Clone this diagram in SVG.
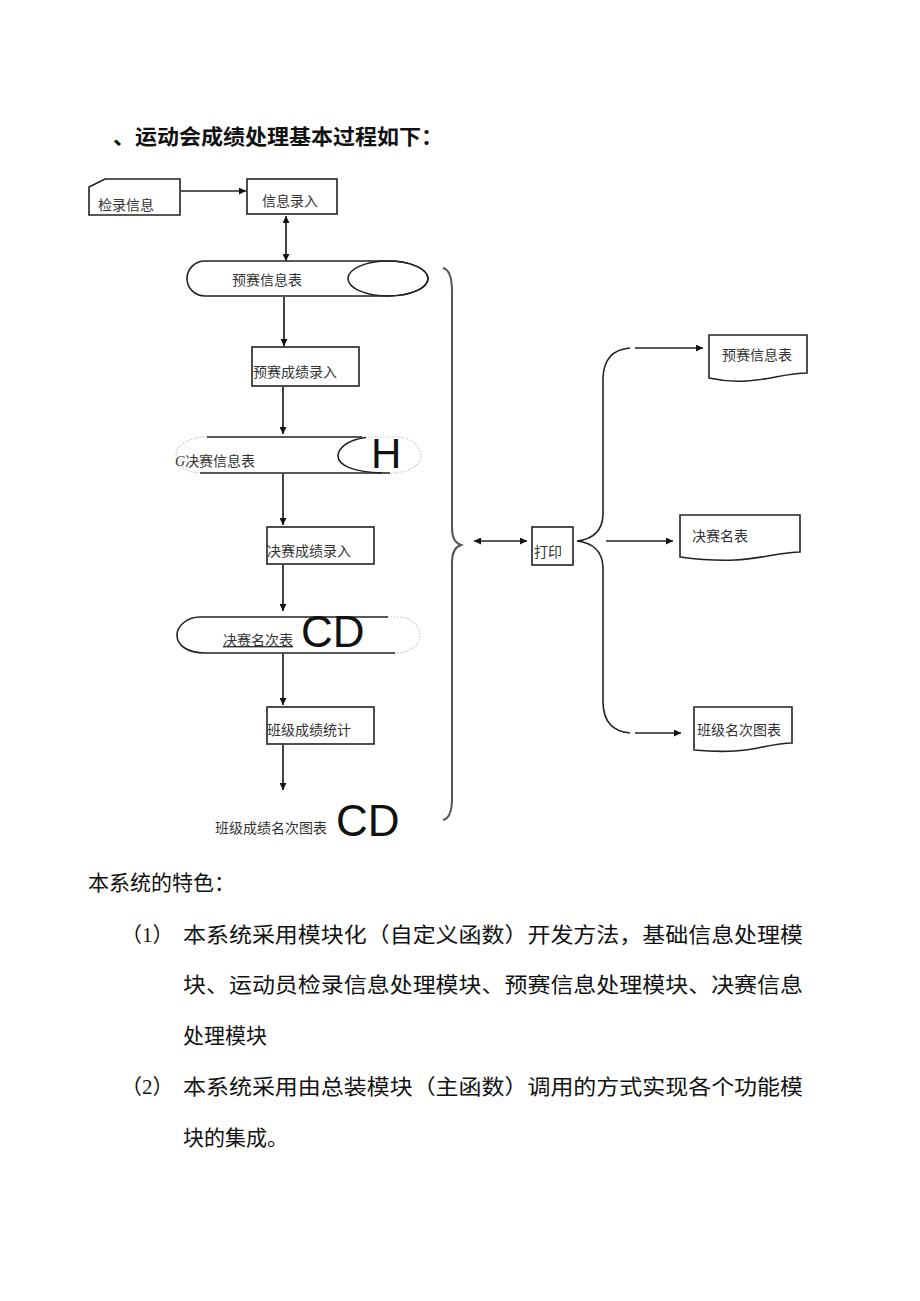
<svg xmlns="http://www.w3.org/2000/svg" width="920" height="1301" viewBox="0 0 920 1301">
<defs>
<marker id="ah" viewBox="0 0 10 10" refX="10" refY="5" markerWidth="9" markerHeight="7" markerUnits="userSpaceOnUse" orient="auto-start-reverse">
<path d="M0,0 L10,5 L0,10 Z" fill="#111"/>
</marker>
</defs>
<style>
.s{fill:none;stroke:#222;stroke-width:1.6}
.box{fill:#fff;stroke:#222;stroke-width:1.6}
.faint{fill:none;stroke:#c8c8c8;stroke-width:1.2;stroke-dasharray:1.5 1.5}
.brace{fill:none;stroke:#555;stroke-width:2}
.ar{fill:none;stroke:#222;stroke-width:1.7}
.t{font-family:"Liberation Serif","Noto Sans CJK SC",serif;font-size:14px;fill:#333}
.big{font-family:"Liberation Sans",Arial,sans-serif;fill:#111}
.body{font-family:"Liberation Serif","Noto Sans CJK SC",serif;font-size:21px;fill:#111}
.title{font-family:"Noto Sans CJK SC",sans-serif;font-size:21px;font-weight:bold;fill:#111}
</style>
<rect width="920" height="1301" fill="#fff"/>

<text class="title" x="113" y="144" textLength="330" lengthAdjust="spacingAndGlyphs">、运动会成绩处理基本过程如下：</text>

<g id="connectors">
<line class="ar" x1="181" y1="191" x2="246" y2="191" marker-end="url(#ah)"/>
<line class="ar" x1="286" y1="216" x2="286" y2="261" marker-start="url(#ah)" marker-end="url(#ah)"/>
<line class="ar" x1="284" y1="297" x2="284" y2="346" marker-end="url(#ah)"/>
<line class="ar" x1="283" y1="387" x2="283" y2="434" marker-end="url(#ah)"/>
<line class="ar" x1="283" y1="474" x2="283" y2="525" marker-end="url(#ah)"/>
<line class="ar" x1="283" y1="565" x2="283" y2="611" marker-end="url(#ah)"/>
<line class="ar" x1="283" y1="654" x2="283" y2="705" marker-end="url(#ah)"/>
<line class="ar" x1="283" y1="745" x2="283" y2="790" marker-end="url(#ah)"/>
<path class="brace" d="M443,268 Q452,270 452,292 L452,528 Q452,542 461,545 Q452,548 452,562 L452,798 Q452,818 443,820"/>
<line class="ar" x1="474" y1="541" x2="527" y2="541" marker-start="url(#ah)" marker-end="url(#ah)"/>
<path class="s" d="M630,348 Q604,350 603,378 L603,515 Q602,538 577,541 Q602,544 603,567 L603,703 Q604,731 630,733"/>
<line class="ar" x1="635" y1="348" x2="703" y2="348" marker-end="url(#ah)"/>
<line class="ar" x1="606" y1="541" x2="673" y2="541" marker-end="url(#ah)"/>
<line class="ar" x1="635" y1="733" x2="681" y2="733" marker-end="url(#ah)"/>
</g>

<g id="n-jianlu">
<path class="box" d="M89,187 L105,179 H180 V215 H89 Z"/>
<text class="t" x="98" y="210">检录信息</text>
</g>

<g id="n-xinxiluru">
<rect class="box" x="247" y="179" width="90" height="35"/>
<text class="t" x="262" y="206">信息录入</text>
</g>

<g id="n-yusaibiao">
<path class="box" d="M205,261 H388 A40,17.5 0 0 1 388,296 H205 A18,17.5 0 0 1 205,261 Z"/>
<ellipse class="s" cx="388" cy="278.5" rx="40" ry="17.5"/>
<text class="t" x="232" y="285">预赛信息表</text>
</g>

<g id="n-yusailuru">
<rect class="box" x="252" y="347" width="107" height="39"/>
<text class="t" x="253" y="377">预赛成绩录入</text>
</g>

<g id="n-juesaibiao">
<path class="faint" d="M207,437 C186,437 176,447 176,455 C176,465 186,473 202,473"/>
<path class="faint" d="M362,437 L395,437 C412,437 421,447 421,455 C421,465 410,473 390,473"/>
<line class="s" x1="207" y1="437" x2="362" y2="437"/>
<line class="s" x1="200" y1="473" x2="390" y2="473"/>
<path class="s" d="M366,437.5 C346,440 338,449 338,456 C338,466 355,472 382,473"/>
<text class="t" x="175" y="466"><tspan font-style="italic">G</tspan>决赛信息表</text>
<text class="big" x="371" y="468" font-size="42">H</text>
</g>

<g id="n-juesailuru">
<rect class="box" x="267" y="527" width="107" height="37"/>
<text class="t" x="267" y="556">决赛成绩录入</text>
</g>

<g id="n-mingcibiao">
<path class="s" d="M200,617 C186,617 177,627 177,635 C177,645 187,653 205,653"/>
<line class="s" x1="200" y1="617" x2="388" y2="617"/>
<line class="s" x1="205" y1="653" x2="395" y2="653"/>
<path class="faint" d="M388,617 L398,617 C412,617 420,627 420,635 C420,645 410,653 395,653"/>
<text class="t" x="223" y="645" text-decoration="underline">决赛名次表</text>
<text class="big" x="301" y="647" font-size="44">CD</text>
</g>

<g id="n-banjitongji">
<rect class="box" x="267" y="707" width="107" height="37"/>
<text class="t" x="267" y="735">班级成绩统计</text>
</g>

<g id="n-banjituobiao">
<text class="t" x="215" y="833">班级成绩名次图表</text>
<text class="big" x="336" y="836" font-size="44">CD</text>
</g>

<g id="n-dayin">
<rect class="box" x="532" y="527" width="41" height="38"/>
<text class="t" x="534" y="557">打印</text>
</g>

<g id="n-doc1">
<path class="box" d="M709,335 H807 V373 C786,373 770,380 746,381 C729,382 718,380 709,378 Z"/>
<text class="t" x="722" y="360">预赛信息表</text>
</g>

<g id="n-doc2">
<path class="box" d="M680,515 H800 V552 C780,552 762,559 735,560 C712,561 695,559 680,557 Z"/>
<text class="t" x="692" y="541">决赛名表</text>
</g>

<g id="n-doc3">
<path class="box" d="M694,707 H792 V743 C773,743 757,750 735,751 C718,752 705,751 694,750 Z"/>
<text class="t" x="697" y="735">班级名次图表</text>
</g>

<g id="features">
<text class="body" x="88" y="890">本系统的特色：</text>
<text class="body" x="121" y="942">（1）</text>
<text class="body" x="183" y="942" textLength="620" lengthAdjust="spacingAndGlyphs">本系统采用模块化（自定义函数）开发方法，基础信息处理模</text>
<text class="body" x="183" y="992" textLength="620" lengthAdjust="spacingAndGlyphs">块、运动员检录信息处理模块、预赛信息处理模块、决赛信息</text>
<text class="body" x="183" y="1043">处理模块</text>
<text class="body" x="121" y="1094">（2）</text>
<text class="body" x="183" y="1094" textLength="620" lengthAdjust="spacingAndGlyphs">本系统采用由总装模块（主函数）调用的方式实现各个功能模</text>
<text class="body" x="183" y="1145">块的集成。</text>
</g>
</svg>
